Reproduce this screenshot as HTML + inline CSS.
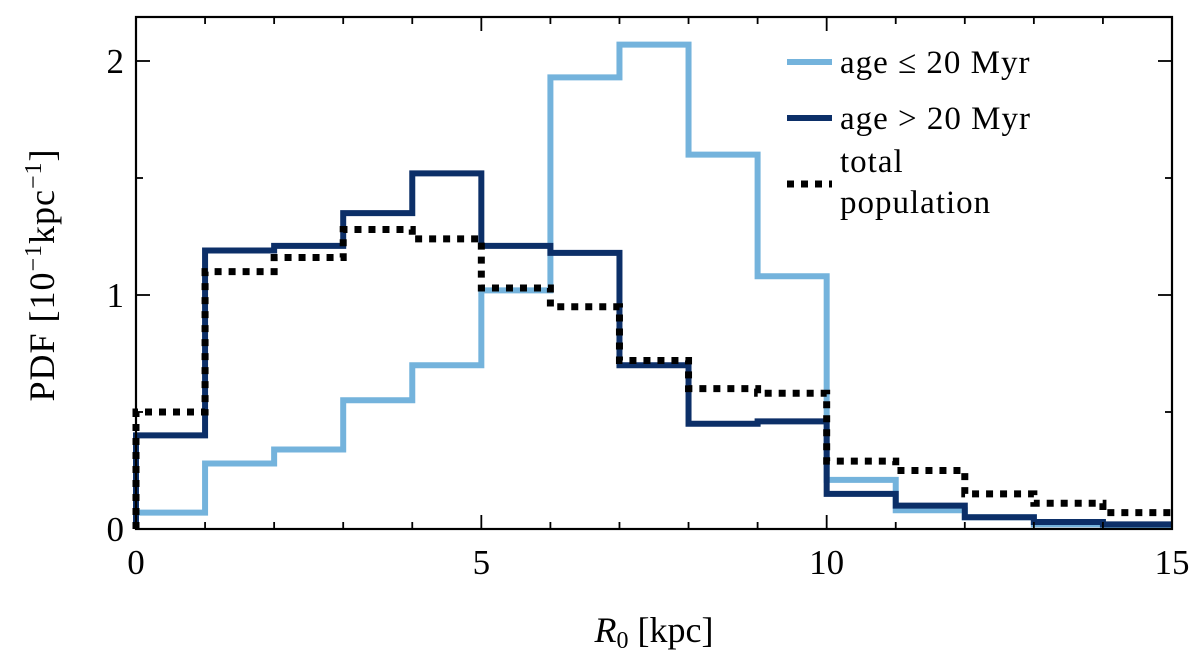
<!DOCTYPE html>
<html><head><meta charset="utf-8"><style>
body{margin:0;background:#fff}
text{font-family:"Liberation Serif","DejaVu Serif",serif;fill:#000}
</style></head><body>
<svg id="chart" width="1200" height="657" xmlns="http://www.w3.org/2000/svg">
<g id="marks"></g>
<g id="axes"></g>
<g>
 <line x1="787" y1="62" x2="832" y2="62" stroke="#74b3dc" stroke-width="6"/>
 <text x="840" y="73" font-size="33" letter-spacing="1">age ≤ 20 Myr</text>
 <line x1="787" y1="118" x2="832" y2="118" stroke="#0c2f68" stroke-width="6"/>
 <text x="840" y="129" font-size="33" letter-spacing="1">age &gt; 20 Myr</text>
 <line x1="787" y1="184" x2="832" y2="184" stroke="#000" stroke-width="7" stroke-dasharray="7 7"/>
 <text x="840" y="172" font-size="33" letter-spacing="1">total</text>
 <text x="840" y="213" font-size="33" letter-spacing="1">population</text>
</g>
<text x="654" y="642" font-size="36" text-anchor="middle"><tspan font-style="italic">R</tspan><tspan font-size="24" dy="6">0</tspan><tspan dy="-6"> [kpc]</tspan></text>
<text transform="translate(54,275) rotate(-90)" font-size="36" text-anchor="middle" letter-spacing="1">PDF [10<tspan font-size="24" dy="-13">−1</tspan><tspan dy="13">kpc</tspan><tspan font-size="24" dy="-13">−1</tspan><tspan dy="13">]</tspan></text>
</svg>
<script>
const binEdges=[0,1,2,3,4,5,6,7,8,9,10,11,12,13,14,15];
const youngValues=[0.07,0.28,0.34,0.55,0.70,1.02,1.93,2.07,1.60,1.08,0.21,0.08,0.05,0.02,0.01];
const oldValues=[0.40,1.19,1.21,1.35,1.52,1.21,1.18,0.70,0.45,0.46,0.15,0.10,0.05,0.03,0.02];
const totalValues=[0.50,1.10,1.16,1.28,1.24,1.03,0.95,0.72,0.60,0.58,0.29,0.25,0.15,0.11,0.07];
const xTicks=[0,5,10,15];
const yTicks=[0,1,2];
const L=136,R=1172,T=17,B=529;
const xs=v=>L+(v-0)/15*(R-L);
const ys=v=>B-v*234;
const NS="http://www.w3.org/2000/svg";
const marks=document.getElementById('marks'),axes=document.getElementById('axes');
function step(vals,color,dash,w,name){
  let d=`M${xs(binEdges[0])},${ys(0)}`;
  vals.forEach((v,i)=>{d+=` L${xs(binEdges[i])},${ys(v)} L${xs(binEdges[i+1])},${ys(v)}`;});
  const p=document.createElementNS(NS,'path');
  p.setAttribute('d',d);p.setAttribute('fill','none');p.setAttribute('stroke',color);
  p.setAttribute('stroke-width',w);if(dash)p.setAttribute('stroke-dasharray',dash);
  
  
  marks.appendChild(p);
}
step(youngValues,'#74b3dc',null,6,'young-histogram');
step(oldValues,'#0c2f68',null,6,'old-histogram');
step(totalValues,'#000','7 7',7,'total-histogram');
function ln(x1,y1,x2,y2,w){const l=document.createElementNS(NS,'line');l.setAttribute('x1',x1);l.setAttribute('y1',y1);l.setAttribute('x2',x2);l.setAttribute('y2',y2);l.setAttribute('stroke','#000');l.setAttribute('stroke-width',w||1.8);


axes.appendChild(l);}
const fr=document.createElementNS(NS,'rect');
fr.setAttribute('x',L);fr.setAttribute('y',T);fr.setAttribute('width',R-L);fr.setAttribute('height',B-T);fr.setAttribute('fill','none');fr.setAttribute('stroke','#000');fr.setAttribute('stroke-width','2.2');


axes.appendChild(fr);
for(let v=0;v<=15;v++){const major=v%5===0;const len=major?14:7;ln(xs(v),B,xs(v),B-len);ln(xs(v),T,xs(v),T+len);}
for(let v=0;v<=2.2;v+=0.5){const major=Math.abs(v-Math.round(v))<1e-6;const len=major?14:7;ln(L,ys(v),L+len,ys(v));ln(R,ys(v),R-len,ys(v));}
xTicks.forEach(v=>{const t=document.createElementNS(NS,'text');t.setAttribute('x',xs(v));t.setAttribute('y',B+45);t.setAttribute('font-size','35');t.setAttribute('text-anchor','middle');t.textContent=v;


axes.appendChild(t);});
yTicks.forEach(v=>{const t=document.createElementNS(NS,'text');t.setAttribute('x',L-12);t.setAttribute('y',ys(v)+12);t.setAttribute('font-size','35');t.setAttribute('text-anchor','end');t.textContent=v;


axes.appendChild(t);});
</script>
</body></html>
